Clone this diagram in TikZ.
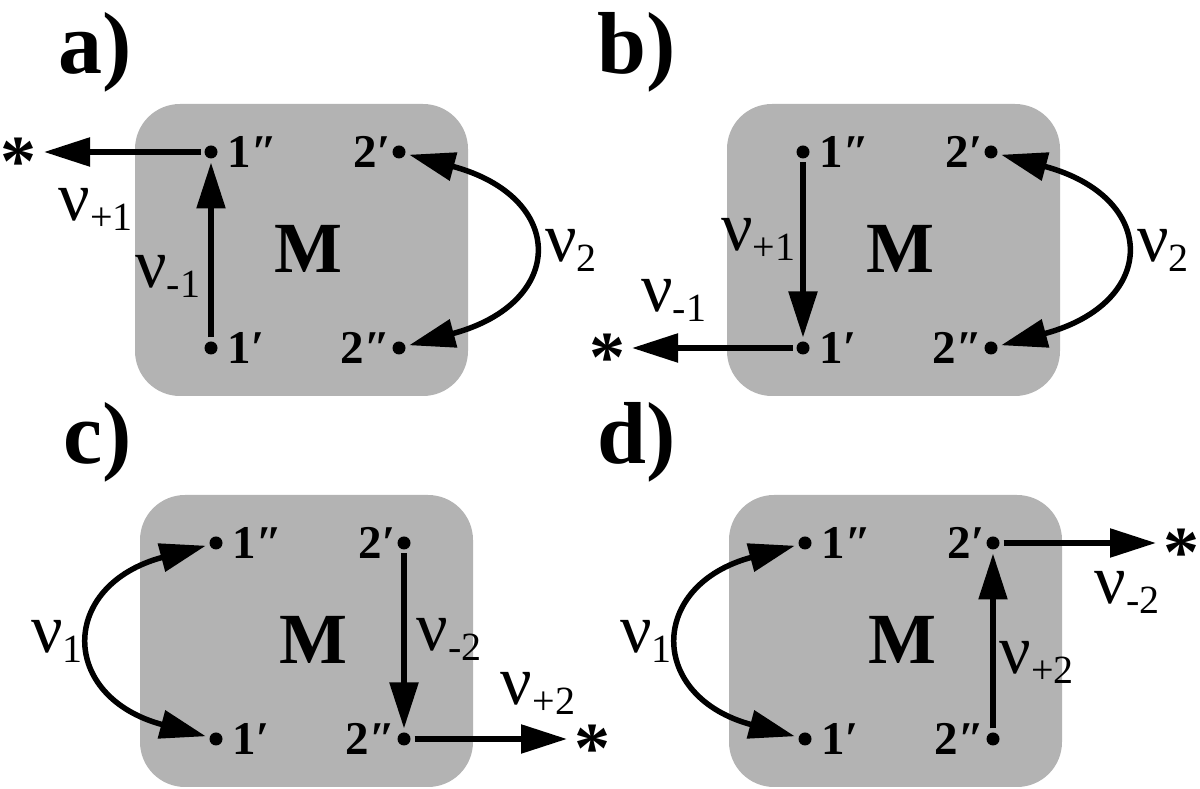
\documentclass[tikz,border=0pt]{standalone}
\usepackage{fontspec}
\setmainfont{Liberation Serif}
\usetikzlibrary{arrows.meta}

\definecolor{cellgray}{RGB}{179,179,179}
\newcommand{\rate}[1]{{\fontsize{70}{70}\selectfont ν}\raisebox{-10pt}{\fontsize{40}{40}\selectfont #1}}
\newcommand{\sinkmark}{\smash{\raisebox{-0.47em}{*}}}

\begin{document}
\begin{tikzpicture}[x=1pt, y=1pt,
    >={Triangle[length=46pt, width=28pt]},
    flow/.style={line width=5.5pt},
    site/.style={circle, fill, inner sep=0pt, minimum size=13pt, outer sep=4pt},
    sitename/.style={font=\fontsize{47}{47}\selectfont\bfseries, inner sep=0pt},
    cell/.style={fill=cellgray, rounded corners=45pt},
    tag/.style={font=\fontsize{88}{88}\selectfont\bfseries},
    core/.style={font=\fontsize{72}{72}\selectfont\bfseries},
    sink/.style={font=\fontsize{72}{72}\selectfont\bfseries, inner sep=0pt, outer sep=7pt},
    ratelbl/.style={inner sep=0pt}]
  \useasboundingbox (0,0) rectangle (1200,789);

  % a)
  \begin{scope}[shift={(135,685)}]
    \node[tag] (atag) at (-40,52) {a)};
    \fill[cell] (0,0) rectangle (333,-292);
    \node[core] (aM) at (173,-145) {M};
    \node[site] (a1pp) at (76,-48) {};
    \node[site] (a1p) at (76,-244) {};
    \node[site] (a2p) at (264,-48) {};
    \node[site] (a2pp) at (264,-244) {};
    \node[sitename, anchor=west, xshift=6pt] (a1ppt) at (a1pp.east) {1″};
    \node[sitename, anchor=west, xshift=6pt] (a1pt) at (a1p.east) {1′};
    \node[sitename, anchor=east, xshift=2pt] (a2pt) at (a2p.west) {2′};
    \node[sitename, anchor=east, xshift=2pt] (a2ppt) at (a2pp.west) {2″};
    \node[sink] (astar) at (-116,-48) {\sinkmark};

    \draw[flow, ->] (a1p) -- node[ratelbl, left=8pt, pos=0.35] (anu1) {\rate{-1}} (a1pp);
    \draw[flow, ->] (a1pp) -- node[ratelbl, below=34pt, pos=0.67] (anu2) {\rate{+1}} (astar);
    \draw[flow, <->] (a2p) to[out=-15, in=15, looseness=2.2] node[ratelbl, right=15pt] (anu3) {\rate{2}} (a2pp);
  \end{scope}

  % b)
  \begin{scope}[shift={(727,685)}]
    \node[tag] (btag) at (-90,52) {b)};
    \fill[cell] (0,0) rectangle (333,-292);
    \node[core] (bM) at (173,-145) {M};
    \node[site] (b1pp) at (76,-48) {};
    \node[site] (b1p) at (76,-244) {};
    \node[site] (b2p) at (264,-48) {};
    \node[site] (b2pp) at (264,-244) {};
    \node[sitename, anchor=west, xshift=6pt] (b1ppt) at (b1pp.east) {1″};
    \node[sitename, anchor=west, xshift=6pt] (b1pt) at (b1p.east) {1′};
    \node[sitename, anchor=east, xshift=2pt] (b2pt) at (b2p.west) {2′};
    \node[sitename, anchor=east, xshift=2pt] (b2ppt) at (b2pp.west) {2″};
    \node[sink] (bstar) at (-120,-244) {\sinkmark};

    \draw[flow, ->] (b1pp) -- node[ratelbl, left=5pt, pos=0.44] (bnu1) {\rate{+1}} (b1p);
    \draw[flow, ->] (b1p) -- node[ratelbl, above=24pt, pos=0.74] (bnu2) {\rate{-1}} (bstar);
    \draw[flow, <->] (b2p) to[out=-15, in=15, looseness=2.2] node[ratelbl, right=15pt] (bnu3) {\rate{2}} (b2pp);
  \end{scope}

  % c)
  \begin{scope}[shift={(140,294)}]
    \node[tag] (ctag) at (-42,53) {c)};
    \fill[cell] (0,0) rectangle (333,-292);
    \node[core] (cM) at (173,-145) {M};
    \node[site] (c1pp) at (76,-48) {};
    \node[site] (c1p) at (76,-244) {};
    \node[site] (c2p) at (264,-48) {};
    \node[site] (c2pp) at (264,-244) {};
    \node[sitename, anchor=west, xshift=6pt] (c1ppt) at (c1pp.east) {1″};
    \node[sitename, anchor=west, xshift=6pt] (c1pt) at (c1p.east) {1′};
    \node[sitename, anchor=east, xshift=2pt] (c2pt) at (c2p.west) {2′};
    \node[sitename, anchor=east, xshift=2pt] (c2ppt) at (c2pp.west) {2″};
    \node[sink] (cstar) at (452,-244) {\sinkmark};

    \draw[flow, <->] (c1pp) to[out=195, in=165, looseness=2.05] node[ratelbl, left=10pt] (cnu1) {\rate{1}} (c1p);
    \draw[flow, ->] (c2p) -- node[ratelbl, right=10pt, pos=0.49] (cnu2) {\rate{-2}} (c2pp);
    \draw[flow, ->] (c2pp) -- node[ratelbl, above=22pt, pos=0.81] (cnu3) {\rate{+2}} (cstar);
  \end{scope}

  % d)
  \begin{scope}[shift={(729,294)}]
    \node[tag] (dtag) at (-92,53) {d)};
    \fill[cell] (0,0) rectangle (333,-292);
    \node[core] (dM) at (173,-145) {M};
    \node[site] (d1pp) at (76,-48) {};
    \node[site] (d1p) at (76,-244) {};
    \node[site] (d2p) at (264,-48) {};
    \node[site] (d2pp) at (264,-244) {};
    \node[sitename, anchor=west, xshift=6pt] (d1ppt) at (d1pp.east) {1″};
    \node[sitename, anchor=west, xshift=6pt] (d1pt) at (d1p.east) {1′};
    \node[sitename, anchor=east, xshift=2pt] (d2pt) at (d2p.west) {2′};
    \node[sitename, anchor=east, xshift=2pt] (d2ppt) at (d2pp.west) {2″};
    \node[sink] (dstar) at (452,-48) {\sinkmark};

    \draw[flow, <->] (d1pp) to[out=195, in=165, looseness=2.05] node[ratelbl, left=10pt] (dnu1) {\rate{1}} (d1p);
    \draw[flow, ->] (d2pp) -- node[ratelbl, right=4pt, pos=0.375] (dnu2) {\rate{+2}} (d2p);
    \draw[flow, ->] (d2p) -- node[ratelbl, below=26pt, pos=0.81] (dnu3) {\rate{-2}} (dstar);
  \end{scope}
\end{tikzpicture}
\end{document}
